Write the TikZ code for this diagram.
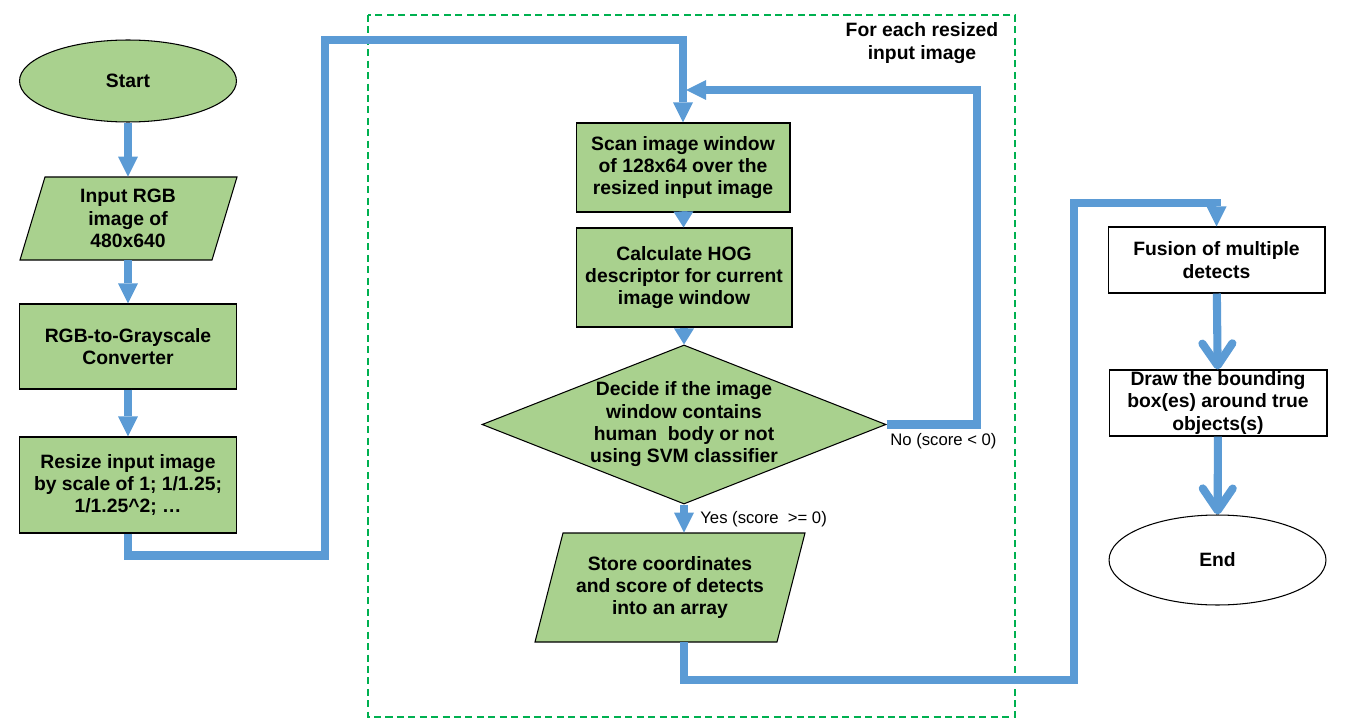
\documentclass[tikz,border=0pt]{standalone}
\usepackage{fontspec}
\setmainfont{Liberation Sans}
\usetikzlibrary{shapes.geometric,arrows.meta,calc}
\definecolor{boxgreen}{HTML}{A9D18E}
\definecolor{flowblue}{HTML}{5B9BD5}
\definecolor{framegreen}{HTML}{00B050}

\begin{document}
\begin{tikzpicture}[x=0.02cm,y=-0.02cm]
\tikzstyle{every node}+=[inner sep=0pt, align=center, font=\fontsize{11}{12.7}\selectfont\bfseries]
\tikzstyle{greenbox}=[draw=black, line width=0.6pt, fill=boxgreen]
\tikzstyle{whitebox}=[draw=black, line width=0.6pt, fill=white]
\tikzstyle{flow}=[draw=flowblue, line width=4.6pt]
\tikzstyle{flowtip}=[-{Triangle[width=0.4cm, length=0.4cm, line width=0pt]}]
\tikzstyle{shorttip}=[-{Triangle[width=0.4cm, length=0.32cm, line width=0pt]}]
\tikzstyle{opentip}=[-{Straight Barb[width=0.6cm, length=0.44cm, round]}]
\tikzstyle{answer}=[anchor=west, font=\fontsize{9.5}{11}\selectfont]
\useasboundingbox (0,0) rectangle (1345,726);
\draw [framegreen, line width=1pt, dash pattern=on 4pt off 2.5pt] (368,15) rectangle (1015,717);
\node (framelabel) at (922,43) {For each resized\\input image};
\node (start) [greenbox, ellipse, minimum width=4.34cm, minimum height=1.64cm] at (128,81) {Start};
\draw [greenbox] (20,260) -- (45,177) -- (237,177) -- (212,260) -- cycle;
\node (input) [minimum width=4.34cm, minimum height=1.66cm] at (128,218.5) {Input RGB\\image of\\480x640};
\node (gray) [greenbox, minimum width=4.34cm, minimum height=1.7cm] at (128,346.5) {RGB-to-Grayscale\\Converter};
\node (resize) [greenbox, minimum width=4.34cm, minimum height=1.92cm] at (128,485) {Resize input image\\by scale of 1; 1/1.25;\\1/1.25\textasciicircum 2; …};
\node (scan) [greenbox, minimum width=4.28cm, minimum height=1.78cm] at (683,167.5) {Scan image window\\of 128x64 over the\\resized input image};
\node (calc) [greenbox, minimum width=4.32cm, minimum height=1.98cm] at (684,277.5) {Calculate HOG\\descriptor for current\\image window};
\node (decide) [greenbox, diamond, aspect=2.54, minimum width=8.08cm, minimum height=3.18cm] at (684,424.5) {Decide if the image\\window contains\\human\ \ body or not\\using SVM classifier};
\draw [greenbox] (535,642) -- (563,533) -- (805,533) -- (777,642) -- cycle;
\node (store) [minimum width=5.4cm, minimum height=2.18cm] at (670,587.5) {Store coordinates\\and score of detects\\into an array};
\node (fusion) [whitebox, minimum width=4.34cm, minimum height=1.32cm] at (1216.5,260) {Fusion of multiple\\detects};
\node (bbox) [whitebox, minimum width=4.36cm, minimum height=1.32cm] at (1218,403) {Draw the bounding\\box(es) around true\\objects(s)};
\node (finish) [whitebox, ellipse, minimum width=4.34cm, minimum height=1.8cm] at (1217.5,560) {End};
\coordinate (loopin) at (686,90);
\draw [flow, flowtip] (start) -- (input);
\draw [flow, flowtip] (input) -- (gray);
\draw [flow, flowtip] (gray) -- (resize);
\draw [flow, flowtip] (resize.south) -- ++(0,22) -| (325,40) -| (scan.north);
\draw [flow, shorttip] (scan) -- (calc);
\draw [flow, shorttip] (calc) -- (decide);
\draw [flow, flowtip] (decide.south) -- (decide.south |- store.north);
\draw [flow, flowtip] (decide.east) -| (977,90) -- (loopin);
\draw [flow, flowtip] (store.south -| decide.south) -- ++(0,38) -| (1074,203) -| (fusion.north);
\draw [flow, opentip] (fusion) -- (bbox);
\draw [flow, opentip] (bbox) -- (finish);
\node (yes) [answer] at (700,519) {Yes (score\ \ >= 0)};
\node (no) [answer] at (890,441) {No (score < 0)};
\end{tikzpicture}
\end{document}
